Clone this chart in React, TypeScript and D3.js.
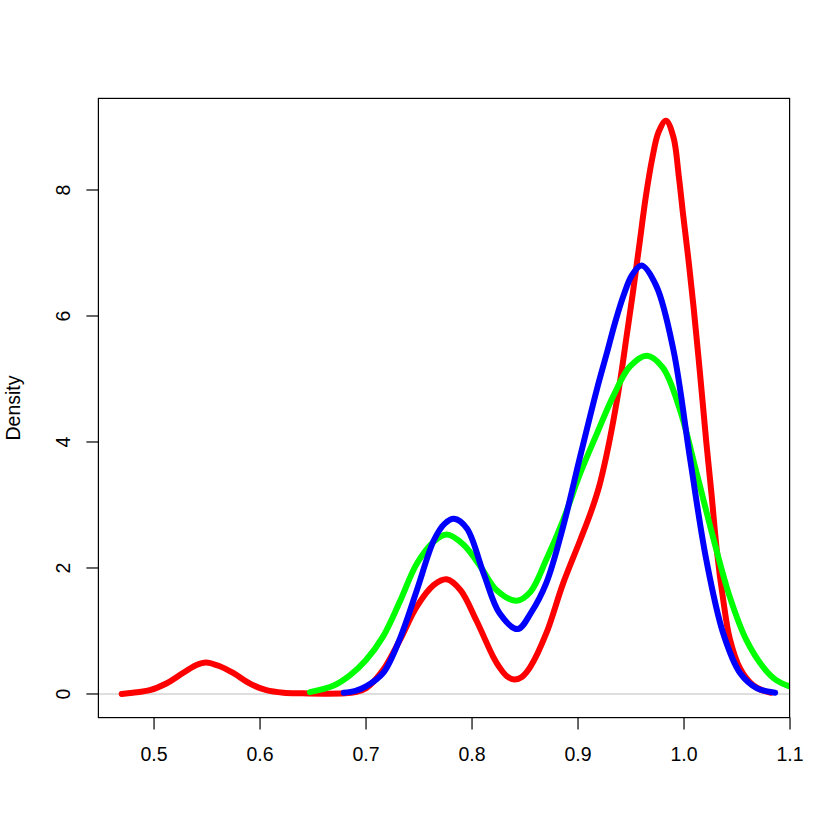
import { useEffect, useRef } from "react"
import * as d3 from "d3"

// density curves: [x, density]
const redCurve: [number, number][] = [
  [0.4695, 0.0], [0.48, 0.02], [0.496, 0.06], [0.512, 0.17], [0.528, 0.34], [0.54, 0.46],
  [0.549, 0.5], [0.562, 0.44], [0.575, 0.33], [0.591, 0.16], [0.606, 0.06], [0.622, 0.02],
  [0.64, 0.01], [0.66, 0.005], [0.68, 0.01], [0.69, 0.03], [0.7, 0.09], [0.716, 0.38],
  [0.732, 0.86], [0.748, 1.39], [0.764, 1.73], [0.776, 1.82], [0.789, 1.65], [0.804, 1.17],
  [0.82, 0.59], [0.826, 0.42], [0.833, 0.28], [0.84, 0.23], [0.847, 0.27], [0.855, 0.43],
  [0.87, 0.96], [0.886, 1.76], [0.902, 2.44], [0.912, 2.88], [0.92, 3.3], [0.927, 3.8],
  [0.934, 4.4], [0.94, 5.0], [0.946, 5.7], [0.952, 6.4], [0.958, 7.15], [0.964, 7.9],
  [0.97, 8.5], [0.976, 8.92], [0.983, 9.1], [0.99, 8.84], [0.995, 8.23], [0.999, 7.63],
  [1.004, 6.92], [1.009, 6.14], [1.015, 5.1], [1.021, 4.0], [1.026, 3.16], [1.031, 2.27],
  [1.037, 1.49], [1.043, 0.89], [1.053, 0.4], [1.065, 0.14], [1.075, 0.05], [1.082, 0.02],
]

const greenCurve: [number, number][] = [
  [0.647, 0.03], [0.669, 0.13], [0.685, 0.3], [0.7, 0.54], [0.716, 0.91], [0.732, 1.47],
  [0.748, 2.07], [0.764, 2.42], [0.776, 2.53], [0.792, 2.37], [0.808, 2.02], [0.823, 1.65],
  [0.842, 1.48], [0.855, 1.62], [0.87, 2.13], [0.886, 2.76], [0.902, 3.5], [0.918, 4.14],
  [0.933, 4.72], [0.949, 5.2], [0.965, 5.37], [0.98, 5.18], [0.996, 4.52], [1.012, 3.5],
  [1.028, 2.45], [1.043, 1.55], [1.059, 0.85], [1.075, 0.42], [1.087, 0.22], [1.0996, 0.12],
]

const blueCurve: [number, number][] = [
  [0.679, 0.02], [0.69, 0.05], [0.7, 0.12], [0.716, 0.33], [0.732, 0.88], [0.748, 1.65],
  [0.764, 2.44], [0.774, 2.7], [0.783, 2.78], [0.795, 2.63], [0.811, 1.91], [0.826, 1.28],
  [0.843, 1.03], [0.856, 1.3], [0.87, 1.76], [0.886, 2.66], [0.902, 3.77], [0.918, 4.85],
  [0.927, 5.4], [0.935, 5.9], [0.943, 6.33], [0.951, 6.65], [0.96, 6.8], [0.974, 6.47],
  [0.99, 5.46], [1.006, 3.7], [1.021, 2.13], [1.037, 0.96], [1.053, 0.33], [1.069, 0.09],
  [1.086, 0.02],
]

const xTicks = [0.5, 0.6, 0.7, 0.8, 0.9, 1.0, 1.1]
const yTicks = [0, 2, 4, 6, 8]
const yLabel = "Density"

const series = [
  { name: "red", color: "#FF0000", points: redCurve },
  { name: "green", color: "#00FF00", points: greenCurve },
  { name: "blue", color: "#0000FF", points: blueCurve },
]

const W = 840
const H = 840
const plot = { left: 98.4, right: 789.6, top: 98.4, bottom: 717.6 }
const font = "'Liberation Sans', Arial, sans-serif"

export default function App() {
  const svgRef = useRef<SVGSVGElement>(null)

  useEffect(() => {
    if (!svgRef.current) return
    const svg = d3.select(svgRef.current)
    svg.selectAll("*").remove()

    const x = d3.scaleLinear().domain([0.4475, 1.0996]).range([plot.left, plot.right])
    const y = d3.scaleLinear().domain([-0.375, 9.454]).range([plot.bottom, plot.top])

    svg.append("rect").attr("width", W).attr("height", H).attr("fill", "white")

    svg.append("clipPath").attr("id", "plot-clip")
      .append("rect")
      .attr("x", plot.left).attr("y", plot.top)
      .attr("width", plot.right - plot.left).attr("height", plot.bottom - plot.top)

    // zero line
    svg.append("line")
      .attr("x1", plot.left).attr("x2", plot.right)
      .attr("y1", y(0)).attr("y2", y(0))
      .attr("stroke", "#BEBEBE").attr("stroke-width", 1.2)

    const line = d3.line<[number, number]>()
      .x((d) => x(d[0]))
      .y((d) => y(d[1]))
      .curve(d3.curveCatmullRom.alpha(0.5))

    const g = svg.append("g").attr("clip-path", "url(#plot-clip)")
    series.forEach((s) => {
      g.append("path")
        .datum(s.points)
        .attr("fill", "none")
        .attr("stroke", s.color)
        .attr("stroke-width", 6)
        .attr("stroke-linecap", "round")
        .attr("stroke-linejoin", "round")
        .attr("d", line)
    })

    // box
    svg.append("rect")
      .attr("x", plot.left).attr("y", plot.top)
      .attr("width", plot.right - plot.left).attr("height", plot.bottom - plot.top)
      .attr("fill", "none").attr("stroke", "black").attr("stroke-width", 1.2)

    // x axis ticks and labels
    svg.selectAll(".x-tick")
      .data(xTicks)
      .enter()
      .append("line")
      .attr("x1", (d) => x(d)).attr("x2", (d) => x(d))
      .attr("y1", plot.bottom).attr("y2", plot.bottom + 12)
      .attr("stroke", "black").attr("stroke-width", 1.2)

    svg.selectAll(".x-label")
      .data(xTicks)
      .enter()
      .append("text")
      .attr("x", (d) => x(d))
      .attr("y", 760.5)
      .attr("text-anchor", "middle")
      .style("font-family", font)
      .style("font-size", "19.5px")
      .attr("fill", "black")
      .text((d) => d.toFixed(1))

    // y axis ticks and labels
    svg.selectAll(".y-tick")
      .data(yTicks)
      .enter()
      .append("line")
      .attr("x1", plot.left - 12).attr("x2", plot.left)
      .attr("y1", (d) => y(d)).attr("y2", (d) => y(d))
      .attr("stroke", "black").attr("stroke-width", 1.2)

    svg.selectAll(".y-label")
      .data(yTicks)
      .enter()
      .append("text")
      .attr("transform", (d) => `translate(70,${y(d)}) rotate(-90)`)
      .attr("text-anchor", "middle")
      .style("font-family", font)
      .style("font-size", "19.5px")
      .attr("fill", "black")
      .text((d) => String(d))

    svg.append("text")
      .attr("transform", `translate(19.5,${(plot.top + plot.bottom) / 2}) rotate(-90)`)
      .attr("text-anchor", "middle")
      .style("font-family", font)
      .style("font-size", "19.5px")
      .attr("fill", "black")
      .text(yLabel)
  }, [])

  return (
    <div style={{ position: "absolute", left: 0, top: 0, width: W, height: H, background: "white" }}>
      <svg ref={svgRef} width={W} height={H} style={{ display: "block" }} />
    </div>
  )
}
